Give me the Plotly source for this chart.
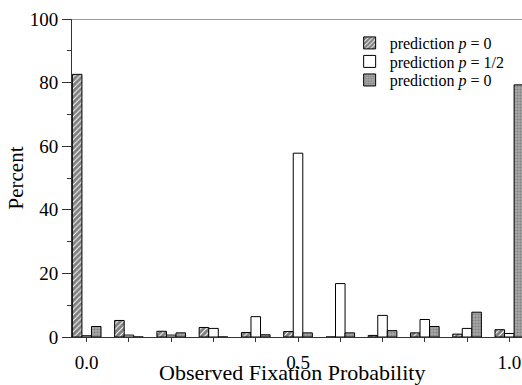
import plotly.graph_objects as go

bins = [0.0, 0.1, 0.2, 0.3, 0.4, 0.5, 0.6, 0.7, 0.8, 0.9, 1.0]
pred_p0 = [82.6, 5.2, 1.8, 3.0, 1.4, 1.7, 0.0, 0.5, 1.3, 0.9, 2.3]
pred_half = [0.4, 0.6, 0.6, 2.7, 6.4, 57.8, 16.8, 6.8, 5.5, 2.7, 1.1]
pred_p1 = [3.3, 0.0, 1.3, 0.0, 0.7, 1.3, 1.3, 2.0, 3.3, 7.8, 79.3]

x_tick_vals = [0.0, 0.1, 0.2, 0.3, 0.4, 0.5, 0.6, 0.7, 0.8, 0.9, 1.0]
x_tick_text = ["0.0", "", "", "", "", "0.5", "", "", "", "", "1.0"]
y_tick_vals = [0, 20, 40, 60, 80, 100]

serif = "Liberation Serif, Times New Roman, serif"
bw = 0.0226

fig = go.Figure()
fig.add_trace(go.Bar(
    x=bins, y=pred_p0, width=bw, offset=-1.5 * bw,
    name="prediction <i>p</i> = 0", legend="legend",
    marker=dict(color="white", line=dict(color="black", width=1),
                pattern=dict(shape="/", fgcolor="black", bgcolor="white", size=4, solidity=0.75)),
))
fig.add_trace(go.Bar(
    x=bins, y=pred_half, width=bw, offset=-0.5 * bw,
    name="prediction <i>p</i> = 1/2", legend="legend2",
    marker=dict(color="white", line=dict(color="black", width=1)),
))
fig.add_trace(go.Bar(
    x=bins, y=pred_p1, width=bw, offset=0.5 * bw,
    name="prediction <i>p</i> = 0", legend="legend3",
    marker=dict(color="#8c8c8c", line=dict(color="black", width=1),
                pattern=dict(shape=".", fgcolor="#5a5a5a", bgcolor="#a8a8a8", size=3, solidity=0.4)),
))

leg_common = dict(x=0.617, xanchor="left", yanchor="middle",
                  font=dict(family=serif, size=16, color="black"),
                  bgcolor="rgba(0,0,0,0)", itemwidth=30)

fig.update_layout(
    width=522, height=385,
    margin=dict(l=72, r=0, t=19, b=48),
    paper_bgcolor="white", plot_bgcolor="white",
    barmode="overlay",
    font=dict(family=serif, color="black", size=19),
    showlegend=True,
    legend=dict(y=0.9245, **leg_common),
    legend2=dict(y=0.8663, **leg_common),
    legend3=dict(y=0.808, **leg_common),
    xaxis=dict(range=[-0.0348, 1.030], tickvals=x_tick_vals, ticktext=x_tick_text,
               ticks="outside", ticklen=4, tickcolor="#333", showline=True,
               linecolor="#333", linewidth=1, showgrid=False, zeroline=False,
               automargin=False, ticklabelstandoff=4,
               tickfont=dict(family=serif, size=19), mirror=False),
    yaxis=dict(range=[0, 100], tickvals=y_tick_vals, ticks="outside", ticklen=9,
               tickcolor="#333", showline=True, linecolor="#333", linewidth=1,
               showgrid=False, zeroline=False, automargin=False,
               minor=dict(tickvals=[10, 30, 50, 70, 90], ticks="outside", ticklen=4, tickcolor="#333"),
               title=dict(text="Percent", standoff=0, font=dict(family=serif, size=21)),
               tickfont=dict(family=serif, size=19)),
)
fig.add_annotation(text="Observed Fixation Probability", xref="paper", yref="paper",
                   x=0.489, y=-0.112, xanchor="center", yanchor="middle", showarrow=False,
                   font=dict(family=serif, size=22, color="black"))
fig.add_shape(type="line", xref="paper", yref="y", x0=0, x1=1, y0=100, y1=100,
              line=dict(color="#333", width=1))

fig.write_html("out.html", config={"displayModeBar": False},
               post_script="document.body.style.margin='0';")
